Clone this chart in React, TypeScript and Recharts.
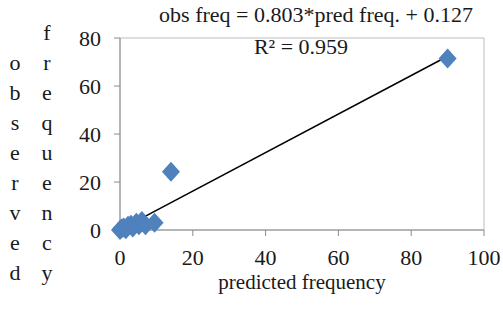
import React from 'react';
import { ScatterChart, Scatter, XAxis, YAxis, ReferenceLine, ReferenceArea } from 'recharts';

// predicted vs observed frequency
const predicted = [0, 0.4, 1, 1.6, 2.2, 3, 3.5, 4.5, 5.2, 6, 7, 9.5, 14, 90];
const observed = [0, 0.6, 1, 0.3, 1.8, 2.2, 1, 3, 2, 3.8, 2, 3, 24.3, 71.5];

const xTicks = [0, 20, 40, 60, 80, 100];
const yTicks = [0, 20, 40, 60, 80];

// linear trendline as printed on the chart
const slope = 0.803;
const intercept = 0.127;
const rSquared = 0.959;
const trendX = [0, 90];

const FONT = '"Liberation Serif", "Times New Roman", serif';
const TEXT = '#1a1a1a';
const AXIS = '#8c8c8c';

const points = predicted.map((x, i) => ({ x, y: observed[i] }));

const Diamond = (props: any) => {
  const { cx, cy } = props;
  return <path d={`M${cx},${cy - 10} L${cx + 9},${cy} L${cx},${cy + 10} L${cx - 9},${cy} Z`} fill="#4F81BD" />;
};

const XTick = (props: any) => {
  const { x, y, payload } = props;
  return (
    <text x={x} y={y} dy="0.71em" textAnchor="middle" fontFamily={FONT} fontSize={22} fill={TEXT}>
      {payload.value}
    </text>
  );
};

const YTick = (props: any) => {
  const { x, y, payload } = props;
  return (
    <text x={x} y={y} dy="0.355em" textAnchor="end" fontFamily={FONT} fontSize={22} fill={TEXT}>
      {payload.value}
    </text>
  );
};

const VerticalTitle = () => {
  const left = 'observed'.split('');
  const right = 'frequency'.split('');
  return (
    <g fontFamily={FONT} fontSize={22} fill={TEXT} textAnchor="middle">
      {right.map((c, i) => (
        <text key={'f' + i} x={47} y={40 + i * 30}>{c}</text>
      ))}
      {left.map((c, i) => (
        <text key={'o' + i} x={15} y={70 + i * 30}>{c}</text>
      ))}
    </g>
  );
};

const EquationLabel = () => (
  <g fontFamily={FONT} fontSize={22} fill={TEXT} textAnchor="middle">
    <text x={316} y={22}>{`obs freq = ${slope.toFixed(3)}*pred freq. + ${intercept.toFixed(3)}`}</text>
    <text x={301} y={54}>{`R² = ${rSquared.toFixed(3)}`}</text>
  </g>
);

const XTitle = () => (
  <text x={302} y={289} fontFamily={FONT} fontSize={21} fill={TEXT} textAnchor="middle">
    predicted frequency
  </text>
);

const App: React.FC = () => {
  return (
    <div style={{ position: 'absolute', left: 0, top: 0, width: 503, height: 322, background: '#fff' }}>
      <ScatterChart width={503} height={322} margin={{ top: 38, right: 19, bottom: 32, left: 60 }}>
        <XAxis
          type="number"
          dataKey="x"
          domain={[0, 100]}
          ticks={xTicks}
          interval={0}
          height={60}
          tickSize={6}
          tickMargin={13}
          tick={<XTick />}
          stroke={AXIS}
          tickLine={{ stroke: AXIS }}
          label={{ content: () => <XTitle /> }}
        />
        <YAxis
          type="number"
          dataKey="y"
          domain={[0, 80]}
          ticks={yTicks}
          interval={0}
          width={60}
          tickSize={6}
          tickMargin={13}
          tick={<YTick />}
          stroke={AXIS}
          tickLine={{ stroke: AXIS }}
          label={{ content: () => <VerticalTitle /> }}
        />
        <ReferenceArea
          x1={0}
          x2={100}
          y1={0}
          y2={80}
          fill="none"
          stroke="#bdbdbd"
          strokeWidth={1}
          label={{ content: () => <EquationLabel /> }}
        />
        <Scatter data={points} shape={Diamond} isAnimationActive={false} />
        <ReferenceLine
          segment={[
            { x: trendX[0], y: slope * trendX[0] + intercept },
            { x: trendX[1], y: slope * trendX[1] + intercept },
          ]}
          stroke="#000"
          strokeWidth={1.5}
        />
      </ScatterChart>
    </div>
  );
};

export default App;
